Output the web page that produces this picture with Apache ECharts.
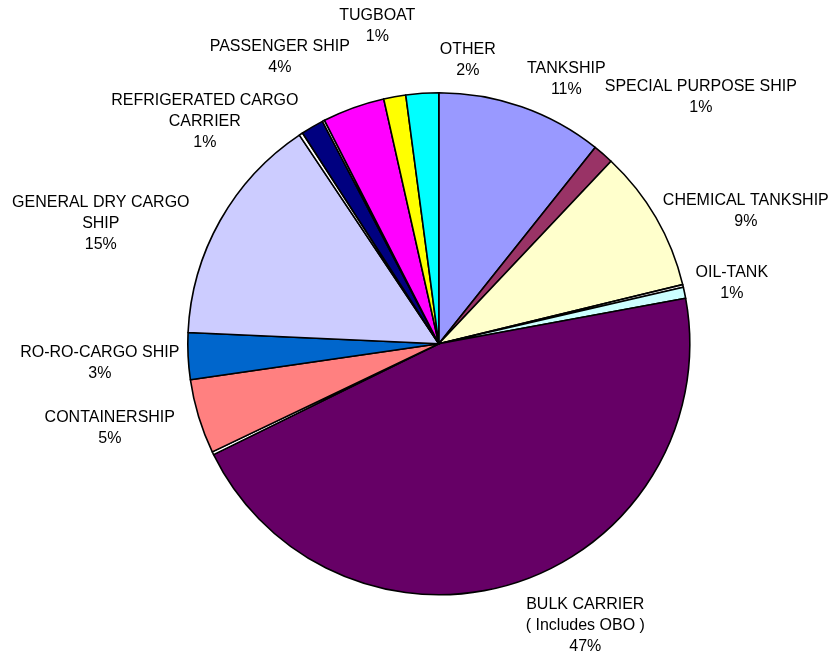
<!DOCTYPE html>
<html>
<head>
<meta charset="utf-8">
<script src="https://cdn.jsdelivr.net/npm/echarts@6/dist/echarts.min.js"></script>
<style>
  html, body { margin: 0; padding: 0; background: #ffffff; }
  #chart { width: 830px; height: 654px; }
</style>
</head>
<body>
<div id="chart"></div>
<script>
// Slices, clockwise from 12 o'clock (unnamed entries are hairline slices)
const categories = [
  'TANKSHIP', 'SPECIAL PURPOSE SHIP', 'CHEMICAL TANKSHIP', '', 'OIL-TANK',
  'BULK CARRIER\n( Includes OBO )', '', 'CONTAINERSHIP', 'RO-RO-CARGO SHIP',
  'GENERAL DRY CARGO\nSHIP', '', 'REFRIGERATED CARGO\nCARRIER', '',
  'PASSENGER SHIP', 'TUGBOAT', 'OTHER'
];
const values = [10.7, 1.33, 9.17, 0.17, 0.72, 45.6, 0.19, 4.8, 3.0, 14.9, 0.24, 1.46, 0.15, 4.0, 1.42, 2.1];
const shareLabels = ['11%', '1%', '9%', '', '1%', '47%', '', '5%', '3%', '15%', '', '1%', '', '4%', '1%', '2%'];
const colors = ['#9999FF', '#993366', '#FFFFCC', '#FFFFFF', '#CCFFFF', '#660066', '#FFFFFF', '#FF8080',
                '#0066CC', '#CCCCFF', '#FFFFFF', '#000080', '#FFFFFF', '#FF00FF', '#FFFF00', '#00FFFF'];

const chart = echarts.init(document.getElementById('chart'), null, { renderer: 'canvas' });

const cx = 438.8, cy = 343.8, R = 251;
// label block centres relative to pie centre (layout, not data)
const labelOffsets = [
  [127.5, -265], [262, -246.5], [307, -133], null, [293, -61],
  [146.5, 282], null, [-329, 84.5], [-339, 19], [-338, -120.5], null,
  [-234, -222], null, [-159, -287], [-61.5, -318], [29, -284]
];

const data = categories.map((name, i) => ({
  name: name,
  value: values[i],
  itemStyle: { color: colors[i] },
  label: { show: !!name, formatter: name + '\n' + shareLabels[i] }
}));

chart.setOption({
  animation: false,
  backgroundColor: '#ffffff',
  series: [{
    type: 'pie',
    center: [cx, cy],
    radius: R,
    startAngle: 90,
    clockwise: true,
    avoidLabelOverlap: false,
    minAngle: 0,
    emphasis: { disabled: true },
    itemStyle: { borderColor: '#000000', borderWidth: 1.6 },
    label: {
      position: 'outside',
      fontFamily: '"Liberation Sans", Arial, sans-serif',
      fontSize: 16,
      lineHeight: 21,
      color: '#000000',
      align: 'center'
    },
    labelLine: { show: false },
    labelLayout: function (params) {
      const o = labelOffsets[params.dataIndex];
      if (!o) return {};
      return { x: cx + o[0], y: cy + o[1], align: 'center', verticalAlign: 'middle' };
    },
    data: data
  }]
});
</script>
</body>
</html>
